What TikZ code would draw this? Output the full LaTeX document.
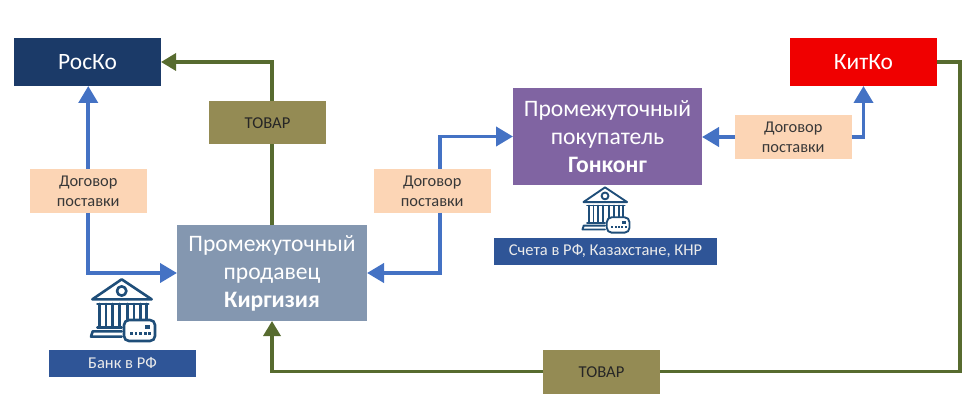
\documentclass[tikz,border=0pt]{standalone}
\usepackage{fontspec}
\setmainfont{Carlito}
\usetikzlibrary{arrows.meta}
\definecolor{navy}{HTML}{1B3A68}
\definecolor{kred}{HTML}{F00000}
\definecolor{olivebox}{HTML}{948B54}
\definecolor{steel}{HTML}{8497B0}
\definecolor{violetbox}{HTML}{8064A2}
\definecolor{peach}{HTML}{FCD5B5}
\definecolor{bankblue}{HTML}{2F5597}
\definecolor{arrowblue}{HTML}{4472C4}
\definecolor{arrowgreen}{HTML}{576B2F}
\definecolor{iconblue}{HTML}{1F4E79}
\tikzset{
  px/.style={x=1pt,y=-1pt},
  box/.style={anchor=north west,inner sep=0pt,outer sep=0pt,align=center},
  entity/.style={box,text=white,font=\fontsize{23.4}{28}\selectfont},
  mid/.style={box,text=white,font=\fontsize{23.6}{28}\selectfont},
  contract/.style={box,fill=peach,text=black!78,minimum width=116.5pt,minimum height=44pt,font=\fontsize{16.4}{20}\selectfont},
  goods/.style={box,fill=olivebox,text=black!85,minimum width=117pt,minimum height=43.5pt,font=\fontsize{16.6}{20}\selectfont},
  tag/.style={box,fill=bankblue,text=white!92!black,minimum height=27pt,font=\fontsize{16.5}{20}\selectfont},
  blueline/.style={draw=arrowblue,line width=3.8pt,-{Triangle[length=17pt,width=19pt]},line join=miter},
  greenline/.style={draw=arrowgreen,line width=3.4pt,-{Triangle[length=15pt,width=17pt]},line join=miter},
  plainblue/.style={blueline,-},
  plaingreen/.style={greenline,-},
  bankicon/.pic={
    \begin{scope}[draw=iconblue,fill=iconblue,line cap=round,line join=round]
      \draw[fill=none] (245,28) -- (157,88) -- (335,88) -- cycle;
      \draw[fill=none] (245,63) circle (14);
      \draw (172,102) -- (325,102);
      \foreach \c in {178,198,218,238,262,282,302,320}{\draw (\c,102) -- (\c,170);}
      \draw (172,172) -- (245,172);
      \draw[fill=none] (245,184) -- (158,184) -- (153,200) -- (245,200);
      \draw[fill=white,rounded corners=5pt] (252,150) rectangle (345,213);
      \fill (314,164) rectangle (331,178);
      \foreach \c in {270,284,298,312,325}{\fill (\c,186) rectangle +(8,8);}
    \end{scope}
  }
}
\begin{document}
\begin{tikzpicture}[px]
\useasboundingbox (0,0) rectangle (974,414);
\node[entity,fill=navy,minimum width=147pt,minimum height=48pt] (rosko) at (14,38) {РосКо};
\node[entity,fill=kred,minimum width=147pt,minimum height=48pt] (kitko) at (790,38) {КитКо};
\node[mid,fill=steel,minimum width=190pt,minimum height=96pt] (seller) at (177,225) {Промежуточный\\продавец\\\textbf{Киргизия}};
\node[mid,fill=violetbox,minimum width=189pt,minimum height=97pt] (buyer) at (513,88) {Промежуточный\\покупатель\\\textbf{Гонконг}};
\node[goods] (t1) at (209,101) {ТОВАР};
\node[goods] (t2) at (543,350) {ТОВАР};
\node[contract] (d1) at (30,169) {Договор\\поставки};
\node[contract] (d2) at (374,169) {Договор\\поставки};
\node[contract] (d3) at (735,115) {Договор\\поставки};
\node[tag,minimum width=147pt] (bank) at (49,350) {Банк в РФ};
\node[tag,minimum width=223pt] (acc) at (494,238) {Счета в РФ, Казахстане, КНР};
\coordinate (kcorner) at (960,62);
\coordinate (d2up) at ([xshift=8pt]d2.north);
\coordinate (d2down) at ([xshift=8pt]d2.south);
% blue connectors
\draw[blueline] (d1.north) -- (d1.north |- rosko.south);
\draw[blueline] (d1.south) |- (seller.west);
\draw[blueline] (d2up) |- (buyer.west);
\draw[blueline] (d2down) |- (seller.east);
\draw[blueline] (d3.west) -- (d3.west -| buyer.east);
\draw[blueline] (d3.east) -| (kitko.south);
% green connectors
\draw[plaingreen] (seller.north) -- (seller.north |- t1.south);
\draw[greenline] (t1.north -| seller.north) |- (rosko.east);
\draw[plaingreen] (kitko.east) -- (kcorner) |- (t2.east);
\draw[greenline] (t2.west) -| (seller.south);
% icons
\pic[line width=2.6pt,scale=1/3] at (40,270) {bankicon};
\pic[line width=1.9pt,scale=.245] at (545,180.5) {bankicon};
\end{tikzpicture}
\end{document}
